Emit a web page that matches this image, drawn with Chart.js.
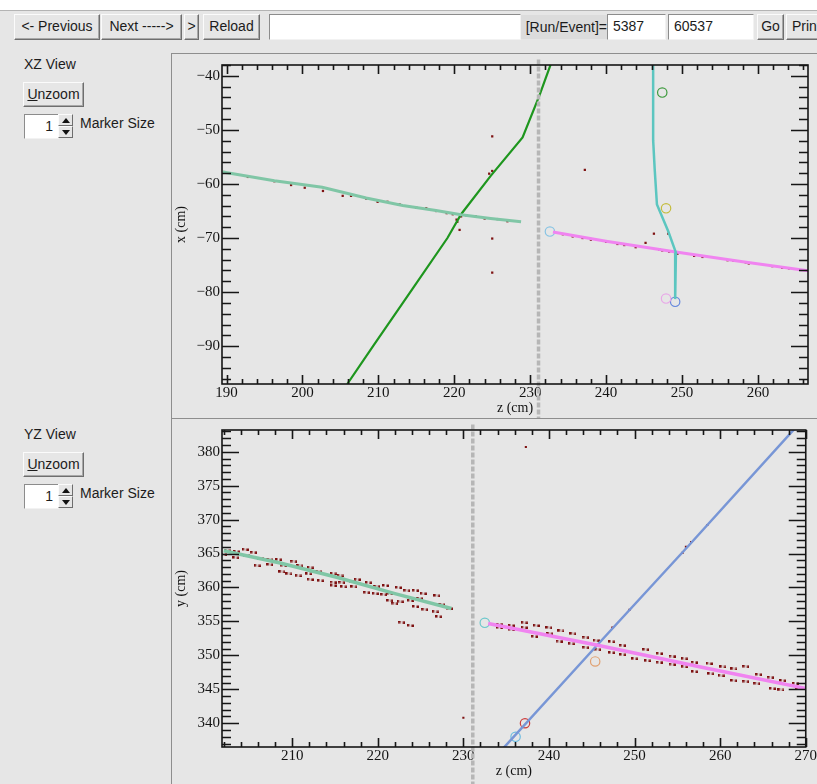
<!DOCTYPE html>
<html>
<head>
<meta charset="utf-8">
<script src="https://cdn.jsdelivr.net/npm/chart.js@4.4.1/dist/chart.umd.min.js"></script>
<style>
  body { margin: 0; width: 817px; height: 784px; overflow: hidden; position: relative;
         background: #e6e6e6; font: 14px "Liberation Sans", Arial, sans-serif; color: #1c1c1c; }
  .abs { position: absolute; white-space: nowrap; }
  .btn { position: absolute; box-sizing: border-box; background: #e6e6e6; border: 1px solid;
         border-color: #fbfbfb #6e6e6e #6e6e6e #fbfbfb; box-shadow: inset -1px -1px #a8a8a8;
         text-align: center; white-space: nowrap; line-height: 23px; }
  .field { position: absolute; box-sizing: border-box; background: #fff; border: 1px solid;
           border-color: #8c8c8c #f2f2f2 #f2f2f2 #8c8c8c; line-height: 22px; padding: 0 5px; }
  .frame { position: absolute; box-sizing: border-box; border-left: 1px solid #8e8e8e;
           border-top: 1px solid #8e8e8e; background: #e6e6e6; }
  canvas { position: absolute; }
  .spin { position: absolute; width: 15px; height: 24px; box-sizing: border-box; }
  .spin div { position: absolute; left: 0; width: 15px; height: 12px; box-sizing: border-box;
              border: 1px solid; border-color: #fbfbfb #6e6e6e #6e6e6e #fbfbfb; background: #e6e6e6; }
  .spin svg { position: absolute; left: 3px; top: 3px; }
</style>
</head>
<body>
<div class="abs" style="left:0;top:0;width:817px;height:10px;background:#fff;border-bottom:1px solid #b4b4b4"></div>

<!-- toolbar -->
<div class="btn" style="left:14px;top:14px;width:86px;height:26px">&lt;- Previous</div>
<div class="btn" style="left:101px;top:14px;width:81px;height:26px">Next -----&gt;</div>
<div class="btn" style="left:184px;top:14px;width:15px;height:26px">&gt;</div>
<div class="btn" style="left:203px;top:14px;width:57px;height:26px">Reload</div>
<div class="field" style="left:269px;top:14px;width:252px;height:26px"></div>
<div class="abs" style="left:521px;top:15px;width:86px;height:24px;line-height:24px;text-align:right;background:#dcdcdc">[Run/Event]=</div>
<div class="field" style="left:607px;top:14px;width:59px;height:26px">5387</div>
<div class="field" style="left:668px;top:14px;width:86px;height:26px">60537</div>
<div class="btn" style="left:757px;top:14px;width:27px;height:26px">Go</div>
<div class="btn" style="left:786px;top:14px;width:40px;height:26px;text-align:left;padding-left:5px">Print</div>

<!-- XZ controls -->
<div class="abs" style="left:24px;top:56px">XZ View</div>
<div class="btn" style="left:23px;top:82px;width:61px;height:25px"><u>U</u>nzoom</div>
<div class="field" style="left:24px;top:114px;width:35px;height:25px;text-align:right">1</div>
<div class="spin" style="left:58px;top:114px">
  <div style="top:0"><svg width="8" height="5"><polygon points="0,5 8,5 4,0" fill="#111"/></svg></div>
  <div style="top:12px"><svg width="8" height="5"><polygon points="0,0 8,0 4,5" fill="#111"/></svg></div>
</div>
<div class="abs" style="left:80px;top:115px">Marker Size</div>

<!-- YZ controls -->
<div class="abs" style="left:24px;top:426px">YZ View</div>
<div class="btn" style="left:23px;top:452px;width:61px;height:25px"><u>U</u>nzoom</div>
<div class="field" style="left:24px;top:484px;width:35px;height:25px;text-align:right">1</div>
<div class="spin" style="left:58px;top:484px">
  <div style="top:0"><svg width="8" height="5"><polygon points="0,5 8,5 4,0" fill="#111"/></svg></div>
  <div style="top:12px"><svg width="8" height="5"><polygon points="0,0 8,0 4,5" fill="#111"/></svg></div>
</div>
<div class="abs" style="left:80px;top:485px">Marker Size</div>

<div class="frame" style="left:171px;top:53px;width:646px;height:365px"></div>
<div class="frame" style="left:171px;top:418px;width:646px;height:366px"></div>
<canvas id="xzChart" width="645" height="364" style="left:172px;top:54px"></canvas>
<canvas id="yzChart" width="645" height="365" style="left:172px;top:419px"></canvas>

<script>
// ── XZ view data: [z, x] in cm ──
const xzRange = { zMin: 189.4, zMax: 266.6, xMin: -97.0, xMax: -38.0 };
const cathodeZ = 231.1;
const xzGreenTrack = [[205.9,-97.0],[209.3,-90.0],[214.2,-80.0],[219.1,-70.0],[220.9,-65.6],
  [224.8,-58.5],[229.0,-51.4],[231.2,-43.7],[232.7,-37.9]];
const xzTealTrack = [[189.5,-57.8],[196.3,-59.4],[202.6,-60.6],[208.4,-62.6],[213.2,-64.0],
  [217.6,-64.9],[220.9,-65.7],[224.8,-66.4],[228.8,-67.0]];
const xzCyanTrack = [[246.2,-37.5],[246.2,-51.9],[246.4,-57.2],[246.7,-63.8],[248.2,-68.8],
  [249.2,-72.7],[249.1,-79.7],[249.1,-81.3]];
const xzPinkTrack = [[233.0,-68.9],[240.0,-70.6],[249.2,-72.6],[258.0,-74.4],[266.8,-76.1]];
const xzHits = [[189.7,-57.8],[192.8,-58.7],[196.3,-59.5],[198.5,-60.2],[200.3,-60.7],[202.7,-61.3],
  [205.3,-62.2],[206.4,-62.2],[208.4,-62.7],[209.9,-63.3],[211.2,-63.3],[212.8,-63.8],[215.0,-64.4],
  [216.3,-64.5],[217.6,-65.0],[219.0,-65.4],[219.8,-65.6],[220.3,-66.6],[220.4,-67.0],[220.9,-66.0],
  [221.6,-65.8],[220.7,-68.5],[222.8,-66.0],[224.0,-66.4],[225.7,-66.5],[227.0,-66.9],
  [225.0,-51.2],[224.6,-58.1],[225.0,-57.6],[225.0,-70.1],[225.0,-76.4],
  [237.2,-57.4],[234.3,-69.3],[235.6,-69.7],[236.9,-70.0],[238.0,-70.3],[240.0,-70.7],[241.5,-71.1],
  [242.4,-71.3],[243.9,-71.7],[245.2,-70.9],[246.3,-69.2],[247.0,-72.1],[248.2,-69.2],[247.4,-72.3],
  [248.3,-72.5],[249.4,-72.9],[251.6,-73.3],[252.7,-73.5],[256.0,-74.1],[256.8,-74.2],[258.4,-74.5],
  [258.8,-74.7],[261.9,-75.2],[263.2,-75.5],[264.1,-75.6]];
const xzVertices = [
  { name: 'green', color: '#3c9a3c', pos: [247.4,-43.1] },
  { name: 'yellow', color: '#c4bc3c', pos: [247.9,-64.5] },
  { name: 'lightblue', color: '#88c4e4', pos: [232.6,-68.8] },
  { name: 'pink', color: '#e8a8e8', pos: [247.9,-81.2] },
  { name: 'blue', color: '#6688dd', pos: [249.1,-81.8] }
];

// ── YZ view data: [z, y] in cm ──
const yzRange = { zMin: 201.8, zMax: 270.0, yMin: 336.5, yMax: 383.2 };
const yzTealTrack = [[202.0,365.4],[208.6,363.6],[215.2,361.5],[222.0,359.1],[228.6,356.9]];
const yzPinkTrack = [[232.9,354.7],[245.7,351.5],[258.0,348.2],[270.5,345.0]];
const yzBlueTrack = [[234.0,335.4],[245.7,351.6],[256.2,366.0],[269.5,384.5]];
const yzHitPairs = [[202.4,365.4],[203.5,365.3],[204.5,365.6],[205.5,365.2],[202.0,364.9],[203.4,364.4],
  [204.7,364.7],[206.3,364.2],[207.4,364.1],[208.4,364.1],[205.9,363.2],[207.4,363.4],[209.0,363.3],
  [210.2,363.9],[210.9,363.2],[212.1,362.9],[208.8,362.3],[209.6,362.0],[210.7,361.7],[211.9,362.0],
  [213.1,362.3],[212.1,361.2],[213.3,361.0],[214.8,362.0],[215.6,361.7],[214.8,360.8],[215.8,360.8],
  [217.0,360.9],[217.6,361.2],[214.8,360.3],[216.0,360.1],[217.2,360.1],[218.9,360.7],[219.9,360.2],
  [220.9,360.3],[218.7,359.3],[219.7,359.1],[220.7,359.0],[221.4,359.1],[222.4,360.0],[223.4,359.6],
  [224.4,359.6],[225.3,359.1],[221.4,358.1],[222.6,357.9],[223.8,358.1],[224.9,358.4],[226.9,358.8],
  [222.0,357.7],[224.4,357.2],[225.5,356.8],[226.7,356.4],[227.5,357.5],[228.4,356.9],[227.1,355.7],
  [222.8,354.9],[223.8,354.4],
  [234.2,354.6],[234.2,354.1],[235.6,354.4],[235.6,353.8],[237.1,354.8],[237.1,354.1],[238.5,354.4],
  [238.3,352.8],[240.0,354.1],[240.1,353.2],[241.4,353.6],[241.2,352.1],[242.8,353.2],[242.6,351.7],
  [244.3,352.7],[244.3,351.2],[245.5,352.2],[245.7,350.9],[247.3,352.0],[247.3,350.4],[248.6,351.5],
  [248.6,350.1],[250.0,349.5],[251.3,350.9],[251.5,349.2],[252.9,350.3],[252.9,349.0],[254.4,349.9],
  [254.4,348.7],[255.8,349.5],[255.8,348.3],[257.0,349.0],[257.0,347.6],[258.7,348.8],[258.9,347.3],
  [260.3,348.3],[260.1,347.0],[261.6,348.0],[261.6,346.3],[263.0,348.4],[263.0,346.2],[264.5,347.2],
  [264.3,345.9],[265.9,346.8],[266.1,345.1],[267.3,346.3],[267.1,344.9],[268.8,345.9],[269.2,345.1]];
const yzHitSingles = [[230.0,340.8],[237.3,380.7],[247.4,354.1],[249.4,356.7],[255.6,365.1],
  [256.0,366.0],[256.6,366.7],[258.5,369.2]];
const yzVertices = [
  { name: 'cyan', color: '#6cc8cc', pos: [232.5,354.8] },
  { name: 'orange', color: '#e0a070', pos: [245.4,349.1] },
  { name: 'red', color: '#cc3c3c', pos: [237.2,340.0] },
  { name: 'lightblue', color: '#6cbce0', pos: [236.1,338.0] }
];

const HIT_COLOR = '#7e1212';
const pts = arr => arr.map(([x, y]) => ({ x, y }));
const fmt = v => String(v).replace('-', '\u2212');
const range = (a, b, s) => { const out = []; for (let v = a; v <= b + 1e-9; v += s) out.push(+v.toFixed(3)); return out; };

// small "‥" mark for paired wire hits
const pairMark = document.createElement('canvas');
pairMark.width = 7; pairMark.height = 3;
const pm = pairMark.getContext('2d');
pm.fillStyle = HIT_COLOR;
pm.fillRect(0, 0, 2.5, 2.5); pm.fillRect(4.5, 0.5, 2.5, 2.5);

// ROOT-style frame with inward ticks on all four sides
const rootFrame = {
  id: 'rootFrame',
  afterDatasetsDraw(chart) {
    const { ctx, chartArea: a, scales: { x, y } } = chart;
    ctx.save();
    ctx.strokeStyle = '#161616';
    ctx.lineWidth = 1.6;
    ctx.strokeRect(a.left, a.top, a.right - a.left, a.bottom - a.top);
    ctx.beginPath();
    x.ticks.forEach(t => {
      const px = Math.round(x.getPixelForValue(t.value)) + 0.5;
      const len = t.major ? 9 : 5;
      ctx.moveTo(px, a.bottom); ctx.lineTo(px, a.bottom - len);
      ctx.moveTo(px, a.top); ctx.lineTo(px, a.top + len);
    });
    y.ticks.forEach(t => {
      const py = Math.round(y.getPixelForValue(t.value)) + 0.5;
      const len = t.major ? 17 : 9;
      ctx.moveTo(a.left, py); ctx.lineTo(a.left + len, py);
      ctx.moveTo(a.right, py); ctx.lineTo(a.right - len, py);
    });
    ctx.stroke();
    ctx.restore();
  }
};

function track(data, color, width) {
  return { data: pts(data), showLine: true, borderColor: color, borderWidth: width,
           pointRadius: 0, tension: 0 };
}
function vertex(v) {
  return { data: pts([v.pos]), showLine: false, pointStyle: 'circle', pointRadius: 4.7,
           borderColor: v.color, borderWidth: 1.2, backgroundColor: 'rgba(0,0,0,0)' };
}
function cathode(yLo, yHi) {
  return { data: pts([[cathodeZ, yLo], [cathodeZ, yHi]]), showLine: true, clip: false,
           borderColor: '#b6b6b6', borderWidth: 3.5, borderDash: [5, 2], pointRadius: 0 };
}

function axisOpts(min, max, ticks, majorStep, title, pos, extra) {
  return {
    type: 'linear', position: pos, min, max,
    grid: { display: false, drawTicks: false },
    border: { display: false },
    afterBuildTicks: s => { s.ticks = ticks.map(v => ({ value: v, major: Math.abs(v % majorStep) < 1e-6 })); },
    ticks: {
      autoSkip: false, maxRotation: 0, color: '#141414', padding: pos === 'left' ? 2 : 0,
      font: { family: '"Liberation Serif", "DejaVu Serif", serif', size: 15 },
      callback: v => (Math.abs(v % majorStep) < 1e-6 ? fmt(v) : '')
    },
    title: { display: true, text: title, color: '#141414',
             font: { family: '"Liberation Serif", "DejaVu Serif", serif', size: 14 },
             padding: extra.titlePad },
    afterFit: s => { if (pos === 'left') s.width = extra.size; else s.height = extra.size; }
  };
}

function makeChart(id, datasets, xAxis, yAxis, padding) {
  return new Chart(document.getElementById(id), {
    type: 'scatter',
    data: { datasets },
    options: {
      responsive: false, animation: false, devicePixelRatio: 1, events: [],
      layout: { padding },
      plugins: { legend: { display: false }, tooltip: { enabled: false } },
      scales: { x: xAxis, y: yAxis }
    },
    plugins: [rootFrame]
  });
}

// ── XZ chart ──
makeChart('xzChart', [
  cathode(-37.0, -103.5),
  track(xzTealTrack, '#80c6a6', 3),
  track(xzGreenTrack, '#1e961e', 2.2),
  track(xzCyanTrack, '#5cc6c0', 2.5),
  track(xzPinkTrack, '#f084f0', 3),
  { data: pts(xzHits), showLine: false, pointStyle: 'rect', pointRadius: 1.6,
    backgroundColor: HIT_COLOR, borderWidth: 0 },
  ...xzVertices.map(vertex)
],
  axisOpts(xzRange.zMin, xzRange.zMax, range(190, 266, 2), 10, 'z (cm)', 'bottom',
           { size: 34, titlePad: { top: 0, bottom: 1.6 } }),
  axisOpts(xzRange.xMin, xzRange.xMax, range(-96, -38, 2), 10, 'x (cm)', 'left',
           { size: 49, titlePad: 0 }),
  { left: 1, right: 9, top: 8, bottom: 0 });

// ── YZ chart ──
makeChart('yzChart', [
  cathode(384.0, 330.5),
  track(yzTealTrack, '#80c6a6', 3.5),
  track(yzPinkTrack, '#f084f0', 3.5),
  track(yzBlueTrack, '#7896d6', 2.5),
  { data: pts(yzHitPairs), showLine: false, pointStyle: pairMark, pointRadius: 3 },
  { data: pts(yzHitSingles), showLine: false, pointStyle: 'rect', pointRadius: 1.5,
    backgroundColor: HIT_COLOR, borderWidth: 0 },
  ...yzVertices.map(vertex)
],
  axisOpts(yzRange.zMin, yzRange.zMax, range(202, 270, 2), 10, 'z (cm)', 'bottom',
           { size: 37, titlePad: { top: 0, bottom: 4.6 } }),
  axisOpts(yzRange.yMin, yzRange.yMax, range(337, 383, 1), 5, 'y (cm)', 'left',
           { size: 49, titlePad: 0 }),
  { left: 1, right: 10, top: 6, bottom: 0 });
</script>
</body>
</html>
